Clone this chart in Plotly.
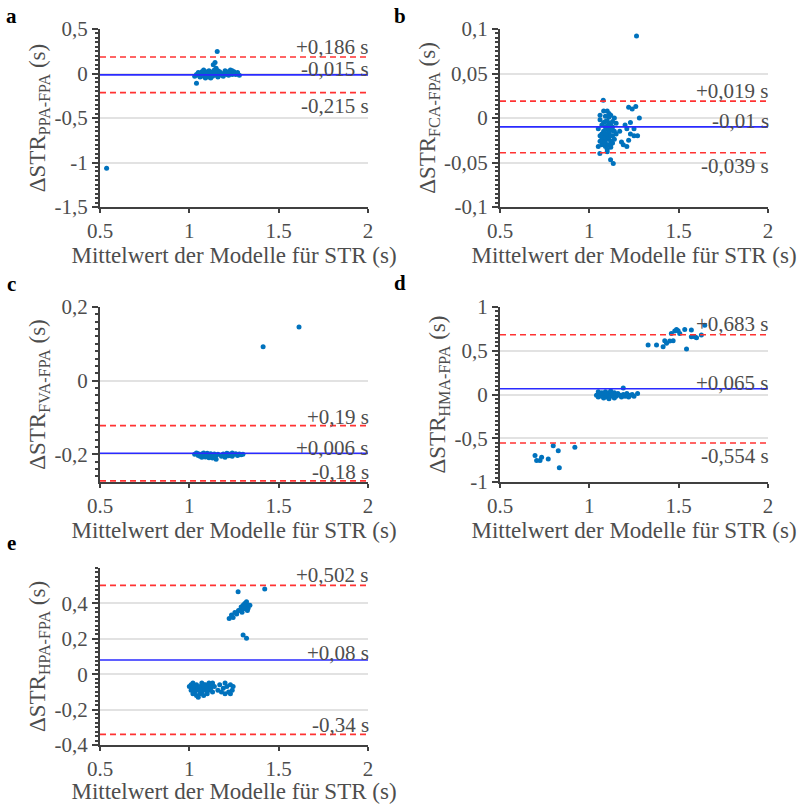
import plotly.graph_objects as go
from plotly.subplots import make_subplots

# ---------------- data ----------------
panel_letters = ["a", "b", "c", "d", "e"]
subscripts = ["PPA-FPA", "FCA-FPA", "FVA-FPA", "HMA-FPA", "HPA-FPA"]

x_ticks = [0.5, 1, 1.5, 2]
x_ticktext = ["0.5", "1", "1.5", "2"]
x_range = [0.5, 2]

y_ticks_a = [0.5, 0, -0.5, -1, -1.5]
y_text_a = ["0,5", "0", "-0,5", "-1", "-1,5"]
y_ticks_b = [0.1, 0.05, 0, -0.05, -0.1]
y_text_b = ["0,1", "0,05", "0", "-0,05", "-0,1"]
y_ticks_c = [0.2, 0, -0.2]
y_text_c = ["0,2", "0", "-0,2"]
y_ticks_d = [1, 0.5, 0, -0.5, -1]
y_text_d = ["1", "0,5", "0", "-0,5", "-1"]
y_ticks_e = [0.4, 0.2, 0, -0.2, -0.4]
y_text_e = ["0,4", "0,2", "0", "-0,2", "-0,4"]

y_range_a = [-1.5, 0.5]
y_range_b = [-0.1, 0.1]
y_range_c = [-0.275, 0.2]
y_range_d = [-1, 1]
y_range_e = [-0.4, 0.6]

pts_a = [(1.03,-0.03),(1.04,-0.01),(1.05,-0.02),(1.05,0.01),(1.06,-0.04),(1.06,0.00),(1.07,-0.02),
         (1.07,0.02),(1.08,0.04),(1.08,-0.01),(1.08,-0.03),(1.09,0.01),(1.09,-0.05),(1.10,0.02),
         (1.10,-0.02),(1.10,0.00),(1.11,-0.04),(1.11,0.03),(1.12,0.01),(1.12,-0.01),(1.12,-0.05),
         (1.13,0.02),(1.13,-0.03),(1.14,0.04),(1.14,0.00),(1.15,0.06),(1.15,-0.02),(1.15,0.01),
         (1.16,0.03),(1.16,-0.04),(1.17,-0.01),(1.17,0.02),(1.18,-0.02),(1.19,0.00),(1.19,-0.03),
         (1.20,0.01),(1.20,0.03),(1.21,-0.01),(1.21,0.02),(1.22,0.00),(1.22,-0.02),(1.23,0.04),
         (1.23,0.01),(1.24,-0.01),(1.24,0.03),(1.25,0.00),(1.25,0.02),(1.26,-0.01),(1.27,0.01),
         (1.28,-0.02),(1.156,0.247),(1.134,0.097),(1.144,0.123),(1.04,-0.109),(0.537,-1.065)]

pts_b = [(1.05,-0.012),(1.06,-0.020),(1.06,-0.002),(1.07,-0.030),(1.07,-0.008),(1.07,-0.018),
         (1.08,0.008),(1.08,-0.005),(1.08,-0.015),(1.08,-0.025),(1.09,-0.032),(1.09,0.002),
         (1.09,-0.010),(1.09,-0.020),(1.09,-0.028),(1.10,0.008),(1.10,-0.003),(1.10,-0.012),
         (1.10,-0.018),(1.10,-0.024),(1.10,-0.035),(1.11,0.005),(1.11,-0.006),(1.11,-0.014),
         (1.11,-0.022),(1.11,-0.030),(1.11,-0.016),(1.12,0.003),(1.12,-0.008),(1.12,-0.012),
         (1.12,-0.026),(1.12,-0.033),(1.13,-0.004),(1.13,-0.010),(1.13,-0.020),(1.13,-0.028),
         (1.14,0.000),(1.14,-0.015),(1.14,-0.024),(1.15,-0.006),(1.15,-0.018),(1.06,0.003),
         (1.07,-0.022),(1.08,-0.028),(1.09,-0.004),(1.10,-0.038),(1.11,0.001),(1.12,-0.020),
         (1.13,-0.014),(1.10,-0.009),(1.09,-0.017),(1.12,-0.030),(1.05,-0.032),(1.06,-0.026),
         (1.17,-0.015),(1.18,-0.027),(1.19,-0.030),(1.20,-0.008),(1.21,-0.012),(1.22,-0.025),
         (1.22,0.012),(1.23,-0.005),(1.24,0.010),(1.25,-0.012),(1.25,-0.020),(1.26,0.013),
         (1.27,-0.020),(1.28,0.000),(1.23,-0.018),(1.21,-0.032),
         (1.078,0.020),(1.059,-0.040),(1.119,-0.047),(1.134,-0.051),(1.264,0.092)]

pts_c = [(1.03,-0.200),(1.04,-0.196),(1.05,-0.203),(1.05,-0.198),(1.06,-0.205),(1.07,-0.199),
         (1.07,-0.208),(1.08,-0.196),(1.08,-0.203),(1.09,-0.201),(1.09,-0.207),(1.10,-0.197),
         (1.10,-0.204),(1.11,-0.200),(1.11,-0.209),(1.12,-0.198),(1.12,-0.205),(1.13,-0.202),
         (1.13,-0.210),(1.14,-0.199),(1.14,-0.206),(1.15,-0.203),(1.15,-0.213),(1.16,-0.200),
         (1.18,-0.205),(1.19,-0.199),(1.20,-0.208),(1.20,-0.202),(1.21,-0.197),(1.22,-0.204),
         (1.22,-0.199),(1.23,-0.201),(1.24,-0.196),(1.24,-0.205),(1.25,-0.200),(1.26,-0.198),
         (1.27,-0.203),(1.28,-0.199),(1.29,-0.201),(1.30,-0.200),(1.413,0.092),(1.614,0.146)]

pts_d = [(1.04,-0.01),(1.05,0.03),(1.05,-0.03),(1.06,0.00),(1.07,-0.02),(1.07,0.02),(1.08,-0.04),
         (1.08,0.01),(1.09,-0.01),(1.09,0.03),(1.10,-0.03),(1.10,0.00),(1.11,-0.05),(1.11,0.02),
         (1.12,-0.01),(1.12,0.04),(1.13,-0.02),(1.13,0.01),(1.14,-0.04),(1.14,0.02),(1.15,0.00),
         (1.15,-0.02),(1.16,0.01),(1.17,-0.01),(1.18,-0.03),(1.19,0.075),(1.19,0.00),(1.20,-0.02),
         (1.21,0.01),(1.22,-0.03),(1.23,-0.01),(1.24,0.00),(1.25,-0.02),(1.27,0.01),
         (1.329,0.566),(1.376,0.566),(1.422,0.615),(1.413,0.547),(1.432,0.585),(1.450,0.611),
         (1.459,0.698),(1.469,0.615),(1.478,0.725),(1.488,0.743),(1.497,0.728),(1.506,0.698),
         (1.534,0.743),(1.544,0.521),(1.571,0.736),(1.571,0.660),(1.590,0.660),(1.600,0.649),
         (1.627,0.679),(1.646,0.792),
         (0.696,-0.698),(0.705,-0.755),(0.724,-0.755),(0.733,-0.717),(0.770,-0.736),
         (0.798,-0.585),(0.826,-0.642),(0.832,-0.838),(0.919,-0.604)]

pts_e = [(1.00,-0.07),(1.01,-0.09),(1.01,-0.06),(1.02,-0.08),(1.02,-0.11),(1.03,-0.07),(1.03,-0.10),
         (1.04,-0.06),(1.04,-0.09),(1.05,-0.13),(1.05,-0.08),(1.06,-0.11),(1.06,-0.07),(1.07,-0.10),
         (1.07,-0.05),(1.08,-0.08),(1.08,-0.12),(1.09,-0.06),(1.09,-0.09),(1.10,-0.11),(1.10,-0.07),
         (1.11,-0.05),(1.11,-0.09),(1.12,-0.08),(1.12,-0.06),(1.13,-0.05),(1.13,-0.10),(1.14,-0.07),
         (1.02,-0.05),(1.04,-0.12),(1.06,-0.09),(1.08,-0.06),(1.10,-0.09),
         (1.16,-0.09),(1.17,-0.06),(1.18,-0.10),(1.19,-0.08),(1.20,-0.05),(1.20,-0.11),(1.21,-0.07),
         (1.22,-0.10),(1.23,-0.06),(1.23,-0.11),(1.24,-0.09),(1.245,-0.07),
         (1.223,0.315),(1.236,0.334),(1.245,0.320),(1.255,0.349),(1.265,0.340),(1.273,0.466),
         (1.275,0.360),(1.283,0.362),(1.290,0.380),(1.295,0.350),(1.301,0.390),(1.305,0.370),
         (1.310,0.400),(1.315,0.385),(1.320,0.409),(1.325,0.360),(1.329,0.372),(1.333,0.390),
         (1.339,0.390),(1.301,0.222),(1.320,0.203),(1.422,0.481)]

# mean, upper LoA, lower LoA (line positions) and their label texts
lines_a = [-0.015, 0.186, -0.215]
labels_a = ["-0,015 s", "+0,186 s", "-0,215 s"]
lines_b = [-0.010, 0.019, -0.039]
labels_b = ["-0,01 s", "+0,019 s", "-0,039 s"]
lines_c = [-0.197, -0.122, -0.272]
labels_c = ["+0,006 s", "+0,19 s", "-0,18 s"]
lines_d = [0.065, 0.683, -0.554]
labels_d = ["+0,065 s", "+0,683 s", "-0,554 s"]
lines_e = [0.080, 0.502, -0.340]
labels_e = ["+0,08 s", "+0,502 s", "-0,34 s"]

# ---------------- style ----------------
FONT = "Liberation Serif"
TXT = "#4d4d4d"
AX = "#404040"
DOT = "#0072BD"
W, H = 805, 804

# label placements (pixel offsets) for mean/upper/lower in each panel
shifts = [
    [6, 10, -13],
    [6, 10, -13],
    [5, 9, 9],
    [6, 11, -13],
    [7, 10, 9],
]

x_dom = [[100 / W, 368 / W], [500 / W, 768 / W]]
y_dom = [[1 - 207 / H, 1 - 29 / H], [1 - 482 / H, 1 - 307 / H], [1 - 745 / H, 1 - 568 / H]]
letter_pos = [(11, 16), (400, 16), (11, 284), (400, 283), (11, 543)]
minor_dt = [0.05, 0.005, 0.02, 0.05, 0.025]

panels = [
    (pts_a, y_ticks_a, y_text_a, y_range_a, lines_a, labels_a),
    (pts_b, y_ticks_b, y_text_b, y_range_b, lines_b, labels_b),
    (pts_c, y_ticks_c, y_text_c, y_range_c, lines_c, labels_c),
    (pts_d, y_ticks_d, y_text_d, y_range_d, lines_d, labels_d),
    (pts_e, y_ticks_e, y_text_e, y_range_e, lines_e, labels_e),
]
cells = [(1, 1), (1, 2), (2, 1), (2, 2), (3, 1)]

fig = make_subplots(rows=3, cols=2, specs=[[{}, {}], [{}, {}], [{}, None]])

for i, (pts, yt, ytt, yr, lines, labels) in enumerate(panels):
    r, c = cells[i]
    xs = [p[0] for p in pts]
    ys = [p[1] for p in pts]
    fig.add_trace(go.Scatter(x=xs, y=ys, mode="markers",
                             marker=dict(color=DOT, size=5, line=dict(width=0)),
                             showlegend=False), row=r, col=c)
    sfx = "" if i == 0 else str(i + 1)
    fig.add_hline(y=lines[0], line=dict(color="#2a2aff", width=1.6), row=r, col=c)
    for v in lines[1:]:
        fig.add_hline(y=v, line=dict(color="#ff3333", width=1.6, dash="6px,4px"), row=r, col=c)
    for k in range(3):
        fig.add_annotation(x=1.012, xref=f"x{sfx} domain", y=lines[k], yref=f"y{sfx}",
                           text=labels[k], showarrow=False, xanchor="right", yanchor="middle",
                           yshift=shifts[i][k], font=dict(family=FONT, size=21, color=TXT))
    fig.update_xaxes(domain=x_dom[c - 1], range=x_range, tickvals=x_ticks, ticktext=x_ticktext,
                     automargin=False,
                     showgrid=False, zeroline=False, showline=True, linecolor=AX, linewidth=2,
                     ticks="outside", ticklen=4, tickwidth=2, tickcolor=AX,
                     tickfont=dict(family=FONT, size=21, color=TXT),
                     title=dict(text="Mittelwert der Modelle für STR (s)", standoff=0,
                                font=dict(family=FONT, size=23, color=TXT)),
                     row=r, col=c)
    fig.update_yaxes(domain=y_dom[r - 1], range=yr, tickvals=yt, ticktext=ytt,
                     automargin=False,
                     showgrid=True, gridcolor="#e2e2e2", gridwidth=2, zeroline=False,
                     showline=True, linecolor=AX, linewidth=2,
                     ticks="outside", ticklen=6, tickwidth=2, tickcolor=AX,
                     minor=dict(dtick=minor_dt[i], ticks="outside", ticklen=3, tickwidth=1.5,
                                tickcolor=AX, showgrid=False),
                     tickfont=dict(family=FONT, size=21, color=TXT),
                     title=dict(text=f"ΔSTR<sub>{subscripts[i]}</sub> (s)", standoff=2,
                                font=dict(family=FONT, size=23, color=TXT)),
                     row=r, col=c)
    lx, ly = letter_pos[i]
    fig.add_annotation(x=lx / W, y=1 - ly / H, xref="paper", yref="paper",
                       text=f"<b>{panel_letters[i]}</b>", showarrow=False,
                       xanchor="center", yanchor="middle",
                       font=dict(family=FONT, size=21, color="#000000"))

fig.update_layout(width=W, height=H, margin=dict(l=0, r=0, t=0, b=0),
                  plot_bgcolor="white", paper_bgcolor="white", showlegend=False)

fig.write_html("out.html")
